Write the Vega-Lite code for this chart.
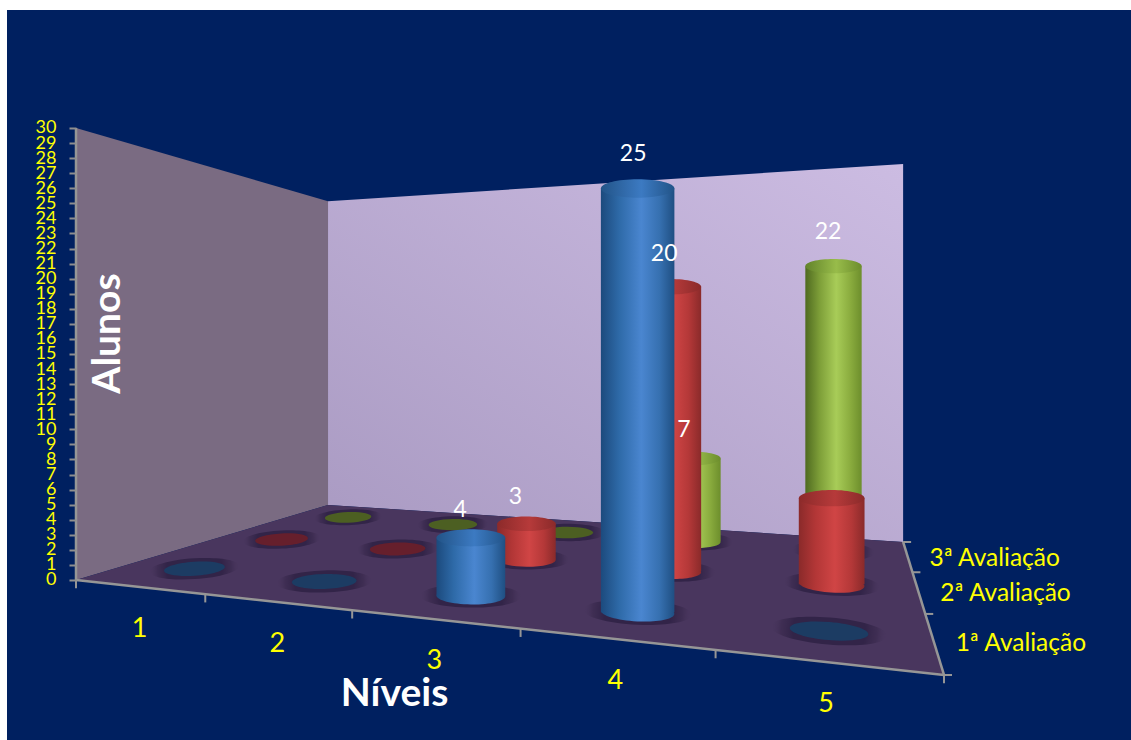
{
  "$schema": "https://vega.github.io/schema/vega-lite/v6.json",
  "width": 1124,
  "height": 730,
  "padding": {"left": 7, "top": 10, "right": 0, "bottom": 0},
  "autosize": {"type": "none"},
  "background": "#ffffff",
  "view": {"fill": "#002060", "stroke": null},
  "config": {"font": "Lato"},
  "data": {"values": [
    {"tipo": "parede_esq", "ordem": 1, "u": 0, "v": 0, "z": 0},
    {"tipo": "parede_esq", "ordem": 2, "u": 0, "v": 0, "z": 30},
    {"tipo": "parede_esq", "ordem": 3, "u": 0, "v": 3, "z": 30},
    {"tipo": "parede_esq", "ordem": 4, "u": 0, "v": 3, "z": 0},
    {"tipo": "parede_fundo", "ordem": 1, "u": 0, "v": 3, "z": 0},
    {"tipo": "parede_fundo", "ordem": 2, "u": 0, "v": 3, "z": 30},
    {"tipo": "parede_fundo", "ordem": 3, "u": 5, "v": 3, "z": 30},
    {"tipo": "parede_fundo", "ordem": 4, "u": 5, "v": 3, "z": 0},
    {"tipo": "chao", "ordem": 1, "u": 0, "v": 0, "z": 0},
    {"tipo": "chao", "ordem": 2, "u": 0, "v": 3, "z": 0},
    {"tipo": "chao", "ordem": 3, "u": 5, "v": 3, "z": 0},
    {"tipo": "chao", "ordem": 4, "u": 5, "v": 0, "z": 0},
    {"tipo": "aresta", "trecho": "alunos", "ordem": 1, "u": 0, "v": 0, "z": 0},
    {"tipo": "aresta", "trecho": "alunos", "ordem": 2, "u": 0, "v": 0, "z": 30},
    {"tipo": "aresta", "trecho": "niveis", "ordem": 1, "u": 0, "v": 0, "z": 0},
    {"tipo": "aresta", "trecho": "niveis", "ordem": 2, "u": 5, "v": 0, "z": 0},
    {"tipo": "aresta", "trecho": "avaliacoes", "ordem": 1, "u": 5, "v": 0, "z": 0},
    {"tipo": "aresta", "trecho": "avaliacoes", "ordem": 2, "u": 5, "v": 3, "z": 0},
    {"tipo": "tique_frente", "u": 0, "v": 0, "z": 0},
    {"tipo": "tique_frente", "u": 1, "v": 0, "z": 0},
    {"tipo": "tique_frente", "u": 2, "v": 0, "z": 0},
    {"tipo": "tique_frente", "u": 3, "v": 0, "z": 0},
    {"tipo": "tique_frente", "u": 4, "v": 0, "z": 0},
    {"tipo": "tique_frente", "u": 5, "v": 0, "z": 0},
    {"tipo": "tique_lado", "u": 5, "v": 0, "z": 0},
    {"tipo": "tique_lado", "u": 5, "v": 1, "z": 0},
    {"tipo": "tique_lado", "u": 5, "v": 2, "z": 0},
    {"tipo": "tique_lado", "u": 5, "v": 3, "z": 0},
    {"tipo": "rotulo_nivel", "u": 0.5, "v": 0, "z": 0, "texto": "1"},
    {"tipo": "rotulo_nivel", "u": 1.5, "v": 0, "z": 0, "texto": "2"},
    {"tipo": "rotulo_nivel", "u": 2.5, "v": 0, "z": 0, "texto": "3"},
    {"tipo": "rotulo_nivel", "u": 3.5, "v": 0, "z": 0, "texto": "4"},
    {"tipo": "rotulo_nivel", "u": 4.5, "v": 0, "z": 0, "texto": "5"},
    {"tipo": "rotulo_lado", "u": 5, "v": 0.5, "z": 0, "texto": "1ª Avaliação"},
    {"tipo": "rotulo_lado", "u": 5, "v": 1.5, "z": 0, "texto": "2ª Avaliação"},
    {"tipo": "rotulo_lado", "u": 5, "v": 2.5, "z": 0, "texto": "3ª Avaliação"},
    {"tipo": "barra", "nivel": 1, "avaliacao": "1ª Avaliação", "alunos": 0},
    {"tipo": "barra", "nivel": 2, "avaliacao": "1ª Avaliação", "alunos": 0},
    {"tipo": "barra", "nivel": 3, "avaliacao": "1ª Avaliação", "alunos": 4, "rotulo": true},
    {"tipo": "barra", "nivel": 4, "avaliacao": "1ª Avaliação", "alunos": 25, "rotulo": true},
    {"tipo": "barra", "nivel": 5, "avaliacao": "1ª Avaliação", "alunos": 0},
    {"tipo": "barra", "nivel": 1, "avaliacao": "2ª Avaliação", "alunos": 0},
    {"tipo": "barra", "nivel": 2, "avaliacao": "2ª Avaliação", "alunos": 0},
    {"tipo": "barra", "nivel": 3, "avaliacao": "2ª Avaliação", "alunos": 3, "rotulo": true},
    {"tipo": "barra", "nivel": 4, "avaliacao": "2ª Avaliação", "alunos": 20, "rotulo": true},
    {"tipo": "barra", "nivel": 5, "avaliacao": "2ª Avaliação", "alunos": 6},
    {"tipo": "barra", "nivel": 1, "avaliacao": "3ª Avaliação", "alunos": 0},
    {"tipo": "barra", "nivel": 2, "avaliacao": "3ª Avaliação", "alunos": 0},
    {"tipo": "barra", "nivel": 3, "avaliacao": "3ª Avaliação", "alunos": 0},
    {"tipo": "barra", "nivel": 4, "avaliacao": "3ª Avaliação", "alunos": 7, "rotulo": true},
    {"tipo": "barra", "nivel": 5, "avaliacao": "3ª Avaliação", "alunos": 22, "rotulo": true}
  ]},
  "transform": [
    {"calculate": "isValid(datum.u) ? datum.u : datum.nivel - 0.49", "as": "uu"},
    {"calculate": "isValid(datum.v) ? datum.v : parseInt(datum.avaliacao) - 0.5", "as": "vv"},
    {"calculate": "isValid(datum.z) ? datum.z : datum.alunos", "as": "zz"},
    {"calculate": "datum.uu / 5", "as": "s"},
    {"calculate": "datum.vv / 3", "as": "t"},
    {"calculate": "1 - 0.30 * datum.s + 0.488 * datum.t", "as": "w"},
    {"calculate": "(584.8 * datum.s + 412.1 * datum.t + 76) / datum.w", "as": "px"},
    {"calculate": "(-107.5 * datum.s + 171.4 * datum.t + 580) / datum.w", "as": "py"},
    {"calculate": "(580 - datum.py) / 15.067", "as": "yb"},
    {"calculate": "datum.yb + datum.zz * (1 - 0.0065 * datum.s) / datum.w", "as": "yt"},
    {"calculate": "datum.yt - 0.4 / datum.w", "as": "ytopo"},
    {"calculate": "datum.ytopo + (26 + 0.35 * datum.zz) / 15.067", "as": "yr"},
    {"calculate": "datum.px - 12 + 0.3 * datum.zz", "as": "xr2"},
    {"calculate": "32 / datum.w", "as": "R"},
    {"calculate": "datum.px - datum.R", "as": "xl"},
    {"calculate": "datum.px + datum.R", "as": "xr"},
    {"calculate": "4 * datum.R * datum.R", "as": "area"},
    {"calculate": "2.2 * datum.area", "as": "areaSombra"},
    {"calculate": "(360 + (datum.s * 12 - 5.5) * (1 - 0.6 * datum.t)) % 360", "as": "giro"},
    {"calculate": "datum.px + 8", "as": "xt"},
    {"calculate": "datum.yb - 0.55", "as": "yf"}
  ],
  "layer": [
    {
      "transform": [{"filter": "datum.tipo === 'parede_esq'"}],
      "mark": {"type": "line", "fill": "#7a6b82", "strokeWidth": 0, "filled": true},
      "encoding": {
        "x": {"field": "px", "type": "quantitative", "scale": {"domain": [7, 1131]},
          "axis": {"title": "Níveis", "domain": false, "ticks": false, "labels": false, "grid": false, "titleColor": "#ffffff", "titleFont": "Lato", "titleFontSize": 39, "titleFontWeight": "bold", "titleX": 387, "titleY": -47, "titleBaseline": "middle", "titleAlign": "center", "titleAnchor": null, "zindex": 1}},
        "y": {"field": "yt", "type": "quantitative", "scale": {"domain": [-10.62, 37.83]},
          "axis": {"title": "Alunos", "values": [0,1,2,3,4,5,6,7,8,9,10,11,12,13,14,15,16,17,18,19,20,21,22,23,24,25,26,27,28,29,30], "tickCount": 40, "offset": -69, "zindex": 1, "domain": false, "grid": false, "tickColor": "#8f8f8f", "tickSize": 7, "tickWidth": 2, "labelColor": "#ffff00", "labelFont": "Lato", "labelFontSize": 18, "labelPadding": 13, "labelOverlap": false, "labelBound": false, "labelFlush": false, "titleColor": "#ffffff", "titleFont": "Lato", "titleFontSize": 39, "titleFontWeight": "bold", "titleAngle": -90, "titleX": 31, "titleY": 323, "titleBaseline": "middle", "titleAlign": "center", "titleAnchor": null}},
        "order": {"field": "ordem"}
      }
    },
    {
      "transform": [{"filter": "datum.tipo === 'parede_fundo'"}],
      "mark": {"type": "line", "strokeWidth": 0, "filled": true,
        "fill": {"gradient": "linear", "x1": 0, "y1": 1, "x2": 1, "y2": 0, "stops": [{"offset": 0, "color": "#a99ac2"}, {"offset": 1, "color": "#ccbce2"}]}},
      "encoding": {
        "x": {"field": "px", "type": "quantitative", "scale": {"domain": [7, 1131]}},
        "y": {"field": "yt", "type": "quantitative", "scale": {"domain": [-10.62, 37.83]}},
        "order": {"field": "ordem"}
      }
    },
    {
      "transform": [{"filter": "datum.tipo === 'chao'"}],
      "mark": {"type": "line", "fill": "#49365e", "strokeWidth": 0, "filled": true},
      "encoding": {
        "x": {"field": "px", "type": "quantitative", "scale": {"domain": [7, 1131]}},
        "y": {"field": "yt", "type": "quantitative", "scale": {"domain": [-10.62, 37.83]}},
        "order": {"field": "ordem"}
      }
    },
    {
      "transform": [{"filter": "datum.tipo === 'aresta'"}],
      "mark": {"type": "line", "stroke": "#969696", "strokeWidth": 2.5},
      "encoding": {
        "x": {"field": "px", "type": "quantitative", "scale": {"domain": [7, 1131]}},
        "y": {"field": "yt", "type": "quantitative", "scale": {"domain": [-10.62, 37.83]}},
        "detail": {"field": "trecho"},
        "order": {"field": "ordem"}
      }
    },
    {
      "transform": [{"filter": "datum.tipo === 'tique_frente'"}],
      "mark": {"type": "rule", "stroke": "#969696", "strokeWidth": 2},
      "encoding": {
        "x": {"field": "px", "type": "quantitative", "scale": {"domain": [7, 1131]}},
        "y": {"field": "yb", "type": "quantitative", "scale": {"domain": [-10.62, 37.83]}},
        "y2": {"field": "yf"}
      }
    },
    {
      "transform": [{"filter": "datum.tipo === 'tique_lado'"}],
      "mark": {"type": "rule", "stroke": "#969696", "strokeWidth": 2},
      "encoding": {
        "x": {"field": "px", "type": "quantitative", "scale": {"domain": [7, 1131]}},
        "x2": {"field": "xt"},
        "y": {"field": "yb", "type": "quantitative", "scale": {"domain": [-10.62, 37.83]}}
      }
    },
    {
      "transform": [{"filter": "datum.tipo === 'barra'"}],
      "mark": {"type": "point", "filled": true, "opacity": 1, "strokeWidth": 0,
        "shape": "M-1,0C-1,-0.127 -0.552,-0.23 0,-0.23C0.552,-0.23 1,-0.127 1,0C1,0.127 0.552,0.23 0,0.23C-0.552,0.23 -1,0.127 -1,0Z",
        "fill": {"gradient": "radial", "x1": 0.5, "y1": 0.5, "r1": 0, "x2": 0.5, "y2": 0.5, "r2": 0.5, "stops": [{"offset": 0, "color": "rgba(50,36,72,1)"}, {"offset": 0.62, "color": "rgba(50,36,72,1)"}, {"offset": 0.82, "color": "rgba(56,40,76,0.6)"}, {"offset": 1, "color": "rgba(73,54,94,0)"}]}},
      "encoding": {
        "x": {"field": "px", "type": "quantitative", "scale": {"domain": [7, 1131]}},
        "y": {"field": "yb", "type": "quantitative", "scale": {"domain": [-10.62, 37.83]}},
        "size": {"field": "areaSombra", "type": "quantitative", "scale": null},
        "angle": {"field": "giro", "type": "quantitative", "scale": null}
      }
    },
    {
      "transform": [{"filter": "datum.tipo === 'barra' && datum.alunos === 0"}],
      "mark": {"type": "point", "filled": true, "opacity": 1, "strokeWidth": 0,
        "shape": "M-1,0C-1,-0.127 -0.552,-0.23 0,-0.23C0.552,-0.23 1,-0.127 1,0C1,0.127 0.552,0.23 0,0.23C-0.552,0.23 -1,0.127 -1,0Z"},
      "encoding": {
        "x": {"field": "px", "type": "quantitative", "scale": {"domain": [7, 1131]}},
        "y": {"field": "yb", "type": "quantitative", "scale": {"domain": [-10.62, 37.83]}},
        "size": {"field": "area", "type": "quantitative", "scale": null},
        "angle": {"field": "giro", "type": "quantitative", "scale": null},
        "fill": {"field": "avaliacao", "type": "nominal", "legend": null, "scale": {"domain": ["1ª Avaliação", "2ª Avaliação", "3ª Avaliação"], "range": ["#1c3c63", "#661f2c", "#4c5f22"]}}
      }
    },
    {
      "transform": [{"filter": "datum.tipo === 'barra' && datum.alunos > 0 && datum.avaliacao === '3ª Avaliação'"}],
      "mark": {"type": "point", "filled": true, "opacity": 1, "strokeWidth": 0,
        "shape": "M-1,0C-1,-0.138 -0.552,-0.25 0,-0.25C0.552,-0.25 1,-0.138 1,0C1,0.138 0.552,0.25 0,0.25C-0.552,0.25 -1,0.138 -1,0Z",
        "fill": {"gradient": "linear", "x1": 0, "y1": 0, "x2": 1, "y2": 0, "stops": [{"offset": 0, "color": "#4f6a20"}, {"offset": 0.25, "color": "#7d9e38"}, {"offset": 0.55, "color": "#a8cc58"}, {"offset": 0.8, "color": "#8aac3e"}, {"offset": 1, "color": "#6d8e2c"}]}},
      "encoding": {
        "x": {"field": "px", "type": "quantitative", "scale": {"domain": [7, 1131]}},
        "y": {"field": "yb", "type": "quantitative", "scale": {"domain": [-10.62, 37.83]}},
        "size": {"field": "area", "type": "quantitative", "scale": null},
        "angle": {"field": "giro", "type": "quantitative", "scale": null}
      }
    },
    {
      "transform": [{"filter": "datum.tipo === 'barra' && datum.alunos > 0 && datum.avaliacao === '3ª Avaliação'"}],
      "mark": {"type": "rect",
        "fill": {"gradient": "linear", "x1": 0, "y1": 0, "x2": 1, "y2": 0, "stops": [{"offset": 0, "color": "#4f6a20"}, {"offset": 0.25, "color": "#7d9e38"}, {"offset": 0.55, "color": "#a8cc58"}, {"offset": 0.8, "color": "#8aac3e"}, {"offset": 1, "color": "#6d8e2c"}]}},
      "encoding": {
        "x": {"field": "xl", "type": "quantitative", "scale": {"domain": [7, 1131]}},
        "x2": {"field": "xr"},
        "y": {"field": "yb", "type": "quantitative", "scale": {"domain": [-10.62, 37.83]}},
        "y2": {"field": "ytopo"}
      }
    },
    {
      "transform": [{"filter": "datum.tipo === 'barra' && datum.alunos > 0 && datum.avaliacao === '3ª Avaliação'"}],
      "mark": {"type": "point", "filled": true, "opacity": 1, "strokeWidth": 0,
        "shape": "M-1,0C-1,-0.138 -0.552,-0.25 0,-0.25C0.552,-0.25 1,-0.138 1,0C1,0.138 0.552,0.25 0,0.25C-0.552,0.25 -1,0.138 -1,0Z",
        "fill": {"gradient": "linear", "x1": 0, "y1": 0, "x2": 1, "y2": 0, "stops": [{"offset": 0, "color": "#62832a"}, {"offset": 0.55, "color": "#98bc4a"}, {"offset": 1, "color": "#6c8d2c"}]}},
      "encoding": {
        "x": {"field": "px", "type": "quantitative", "scale": {"domain": [7, 1131]}},
        "y": {"field": "ytopo", "type": "quantitative", "scale": {"domain": [-10.62, 37.83]}},
        "size": {"field": "area", "type": "quantitative", "scale": null}
      }
    },
    {
      "transform": [{"filter": "datum.tipo === 'barra' && datum.alunos > 0 && datum.avaliacao === '2ª Avaliação'"}],
      "mark": {"type": "point", "filled": true, "opacity": 1, "strokeWidth": 0,
        "shape": "M-1,0C-1,-0.138 -0.552,-0.25 0,-0.25C0.552,-0.25 1,-0.138 1,0C1,0.138 0.552,0.25 0,0.25C-0.552,0.25 -1,0.138 -1,0Z",
        "fill": {"gradient": "linear", "x1": 0, "y1": 0, "x2": 1, "y2": 0, "stops": [{"offset": 0, "color": "#8a2a2a"}, {"offset": 0.25, "color": "#b23636"}, {"offset": 0.55, "color": "#d04545"}, {"offset": 0.8, "color": "#b43838"}, {"offset": 1, "color": "#8a2a2a"}]}},
      "encoding": {
        "x": {"field": "px", "type": "quantitative", "scale": {"domain": [7, 1131]}},
        "y": {"field": "yb", "type": "quantitative", "scale": {"domain": [-10.62, 37.83]}},
        "size": {"field": "area", "type": "quantitative", "scale": null},
        "angle": {"field": "giro", "type": "quantitative", "scale": null}
      }
    },
    {
      "transform": [{"filter": "datum.tipo === 'barra' && datum.alunos > 0 && datum.avaliacao === '2ª Avaliação'"}],
      "mark": {"type": "rect",
        "fill": {"gradient": "linear", "x1": 0, "y1": 0, "x2": 1, "y2": 0, "stops": [{"offset": 0, "color": "#8a2a2a"}, {"offset": 0.25, "color": "#b23636"}, {"offset": 0.55, "color": "#d04545"}, {"offset": 0.8, "color": "#b43838"}, {"offset": 1, "color": "#8a2a2a"}]}},
      "encoding": {
        "x": {"field": "xl", "type": "quantitative", "scale": {"domain": [7, 1131]}},
        "x2": {"field": "xr"},
        "y": {"field": "yb", "type": "quantitative", "scale": {"domain": [-10.62, 37.83]}},
        "y2": {"field": "ytopo"}
      }
    },
    {
      "transform": [{"filter": "datum.tipo === 'barra' && datum.alunos > 0 && datum.avaliacao === '2ª Avaliação'"}],
      "mark": {"type": "point", "filled": true, "opacity": 1, "strokeWidth": 0,
        "shape": "M-1,0C-1,-0.138 -0.552,-0.25 0,-0.25C0.552,-0.25 1,-0.138 1,0C1,0.138 0.552,0.25 0,0.25C-0.552,0.25 -1,0.138 -1,0Z",
        "fill": {"gradient": "linear", "x1": 0, "y1": 0, "x2": 1, "y2": 0, "stops": [{"offset": 0, "color": "#8c2a2a"}, {"offset": 0.55, "color": "#b63a3a"}, {"offset": 1, "color": "#8a2a2a"}]}},
      "encoding": {
        "x": {"field": "px", "type": "quantitative", "scale": {"domain": [7, 1131]}},
        "y": {"field": "ytopo", "type": "quantitative", "scale": {"domain": [-10.62, 37.83]}},
        "size": {"field": "area", "type": "quantitative", "scale": null}
      }
    },
    {
      "transform": [{"filter": "datum.tipo === 'barra' && datum.alunos > 0 && datum.avaliacao === '1ª Avaliação'"}],
      "mark": {"type": "point", "filled": true, "opacity": 1, "strokeWidth": 0,
        "shape": "M-1,0C-1,-0.138 -0.552,-0.25 0,-0.25C0.552,-0.25 1,-0.138 1,0C1,0.138 0.552,0.25 0,0.25C-0.552,0.25 -1,0.138 -1,0Z",
        "fill": {"gradient": "linear", "x1": 0, "y1": 0, "x2": 1, "y2": 0, "stops": [{"offset": 0, "color": "#1c4a7d"}, {"offset": 0.25, "color": "#2e6aa8"}, {"offset": 0.55, "color": "#4a86d0"}, {"offset": 0.8, "color": "#3670b0"}, {"offset": 1, "color": "#1f4f82"}]}},
      "encoding": {
        "x": {"field": "px", "type": "quantitative", "scale": {"domain": [7, 1131]}},
        "y": {"field": "yb", "type": "quantitative", "scale": {"domain": [-10.62, 37.83]}},
        "size": {"field": "area", "type": "quantitative", "scale": null},
        "angle": {"field": "giro", "type": "quantitative", "scale": null}
      }
    },
    {
      "transform": [{"filter": "datum.tipo === 'barra' && datum.alunos > 0 && datum.avaliacao === '1ª Avaliação'"}],
      "mark": {"type": "rect",
        "fill": {"gradient": "linear", "x1": 0, "y1": 0, "x2": 1, "y2": 0, "stops": [{"offset": 0, "color": "#1c4a7d"}, {"offset": 0.25, "color": "#2e6aa8"}, {"offset": 0.55, "color": "#4a86d0"}, {"offset": 0.8, "color": "#3670b0"}, {"offset": 1, "color": "#1f4f82"}]}},
      "encoding": {
        "x": {"field": "xl", "type": "quantitative", "scale": {"domain": [7, 1131]}},
        "x2": {"field": "xr"},
        "y": {"field": "yb", "type": "quantitative", "scale": {"domain": [-10.62, 37.83]}},
        "y2": {"field": "ytopo"}
      }
    },
    {
      "transform": [{"filter": "datum.tipo === 'barra' && datum.alunos > 0 && datum.avaliacao === '1ª Avaliação'"}],
      "mark": {"type": "point", "filled": true, "opacity": 1, "strokeWidth": 0,
        "shape": "M-1,0C-1,-0.138 -0.552,-0.25 0,-0.25C0.552,-0.25 1,-0.138 1,0C1,0.138 0.552,0.25 0,0.25C-0.552,0.25 -1,0.138 -1,0Z",
        "fill": {"gradient": "linear", "x1": 0, "y1": 0, "x2": 1, "y2": 0, "stops": [{"offset": 0, "color": "#225488"}, {"offset": 0.55, "color": "#3c7ac2"}, {"offset": 1, "color": "#225488"}]}},
      "encoding": {
        "x": {"field": "px", "type": "quantitative", "scale": {"domain": [7, 1131]}},
        "y": {"field": "ytopo", "type": "quantitative", "scale": {"domain": [-10.62, 37.83]}},
        "size": {"field": "area", "type": "quantitative", "scale": null}
      }
    },
    {
      "transform": [{"filter": "datum.tipo === 'barra' && datum.rotulo"}],
      "mark": {"type": "text", "color": "#ffffff", "fontSize": 23, "font": "Lato", "baseline": "middle"},
      "encoding": {
        "x": {"field": "xr2", "type": "quantitative", "scale": {"domain": [7, 1131]}},
        "y": {"field": "yr", "type": "quantitative", "scale": {"domain": [-10.62, 37.83]}},
        "text": {"field": "alunos", "type": "quantitative"}
      }
    },
    {
      "transform": [{"filter": "datum.tipo === 'rotulo_nivel'"}],
      "mark": {"type": "text", "color": "#ffff00", "fontSize": 27, "font": "Lato", "dx": 1, "dy": 42, "baseline": "middle"},
      "encoding": {
        "x": {"field": "px", "type": "quantitative", "scale": {"domain": [7, 1131]}},
        "y": {"field": "yb", "type": "quantitative", "scale": {"domain": [-10.62, 37.83]}},
        "text": {"field": "texto", "type": "nominal"}
      }
    },
    {
      "transform": [{"filter": "datum.tipo === 'rotulo_lado'"}],
      "mark": {"type": "text", "color": "#ffff00", "fontSize": 24.5, "font": "Lato", "dx": 22, "dy": 3, "align": "left", "baseline": "middle"},
      "encoding": {
        "x": {"field": "px", "type": "quantitative", "scale": {"domain": [7, 1131]}},
        "y": {"field": "yb", "type": "quantitative", "scale": {"domain": [-10.62, 37.83]}},
        "text": {"field": "texto", "type": "nominal"}
      }
    }
  ]
}
